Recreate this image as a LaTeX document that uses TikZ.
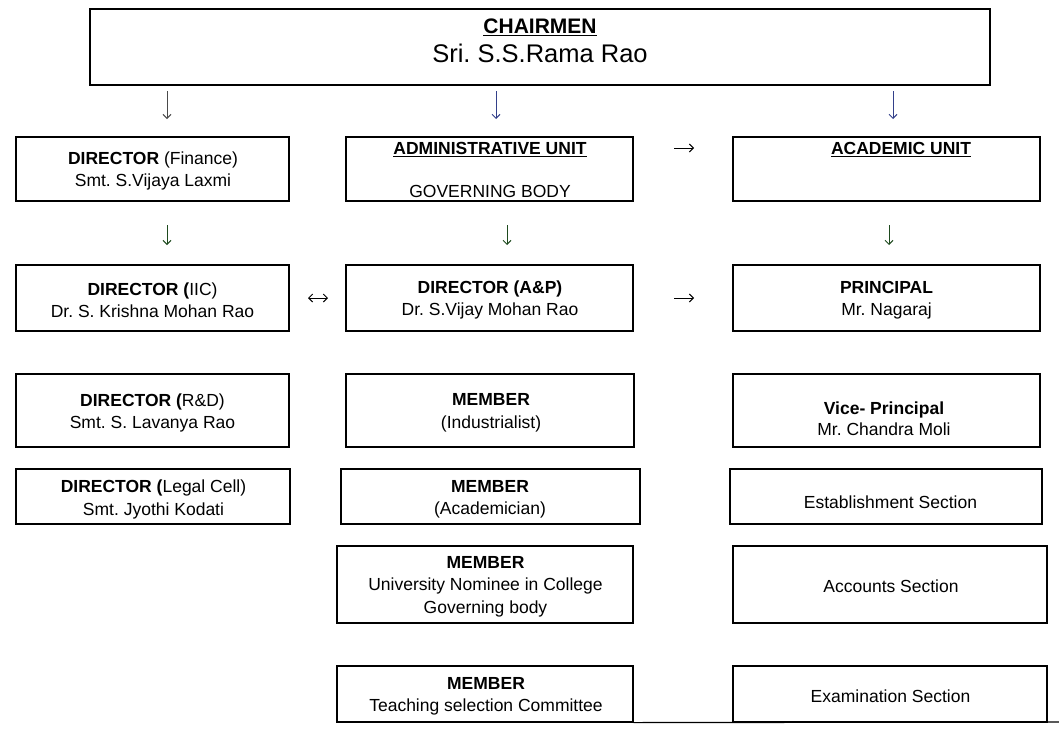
\documentclass[tikz,border=0pt]{standalone}
\usepackage{fontspec}
\setmainfont{Liberation Sans}
\usetikzlibrary{arrows.meta}
\definecolor{arrblue}{HTML}{33408A}
\definecolor{arrgreen}{HTML}{1E4A1E}
\definecolor{arrgray}{HTML}{4A4A4A}
\frenchspacing
\newcommand\bodyfs{\fontsize{17.5}{22.5}\selectfont}
\newcommand\bx[5]{\node[box,minimum width=#4pt-#2pt,minimum height=#5pt-#3pt] (#1) at ({(#2+#4)/2},{(#3+#5)/2}) {};}
\begin{document}
\begin{tikzpicture}[x=1pt,y=-1pt,
 box/.style={draw=black,line width=1.2pt,inner sep=0pt,rectangle},
 txt/.style={inner sep=0pt,align=center,font=\bodyfs,yshift=-1.5pt},
 arr/.style={line width=1pt,-{Straight Barb[length=4pt,width=8pt]}},
 darr/.style={line width=1pt,{Straight Barb[length=4pt,width=8pt]}-{Straight Barb[length=4pt,width=8pt]}}]
\path[use as bounding box, fill=white] (0,0) rectangle (1059,739);
% boxes
\bx{chair}{90}{9}{990}{85}
\bx{fin}{16}{137}{289}{201}
\bx{adm}{346}{137}{633}{201}
\bx{acad}{733}{137}{1040}{201}
\bx{iic}{16}{265}{289}{331}
\bx{ap}{346}{265}{633}{331}
\bx{prin}{733}{265}{1040}{331}
\bx{rd}{16}{374}{289}{447}
\bx{ind}{346}{374}{634}{447}
\bx{vp}{733}{374}{1040}{447}
\bx{leg}{16}{469}{290}{524}
\bx{aca}{341}{469}{640}{524}
\bx{est}{730}{469}{1042}{524}
\bx{uni}{337}{546}{633}{623}
\bx{acc}{733}{546}{1047}{623}
\bx{tea}{337}{666}{633}{722}
\bx{exa}{733}{666}{1047}{722}
\coordinate (edgeR) at (1059,722);
\draw[line width=1.2pt] (tea.south east) -- (edgeR);
% texts
\node[txt,font=\fontsize{21}{25}\selectfont\bfseries,yshift=0pt] (chair1) at (540,26) {\underline{CHAIRMEN}};
\node[txt,font=\fontsize{25.5}{30}\selectfont,yshift=0pt] (chair2) at (540,52) {Sri. S.S.Rama Rao};
\node[txt] (fint) at (153,169.5) {\textbf{DIRECTOR} (Finance)\\Smt. S.Vijaya Laxmi};
\node[txt] (admt1) at (490,148) {\textbf{\underline{ADMINISTRATIVE UNIT}}};
\node[txt] (admt2) at (490,190) {GOVERNING BODY};
\node[txt] (acadt) at (901,148) {\textbf{\underline{ACADEMIC UNIT}}};
\node[txt] (iict) at (152.5,298.5) {\textbf{DIRECTOR (}IIC)\\Dr. S. Krishna Mohan Rao};
\node[txt] (apt) at (490,298.5) {\textbf{DIRECTOR (A\&P)}\\Dr. S.Vijay Mohan Rao};
\node[txt] (print) at (886.5,298.5) {\textbf{PRINCIPAL}\\Mr. Nagaraj};
\node[txt] (rdt) at (152.5,411.5) {\textbf{DIRECTOR (}R\&D)\\Smt. S. Lavanya Rao};
\node[txt] (indt) at (491,411.5) {\textbf{MEMBER}\\(Industrialist)};
\node[txt,font=\fontsize{17.5}{21}\selectfont] (vpt) at (884,417.5) {\textbf{Vice- Principal}\\Mr. Chandra Moli};
\node[txt] (legt) at (153.5,498) {\textbf{DIRECTOR (}Legal Cell)\\Smt. Jyothi Kodati};
\node[txt] (acat) at (490,498) {\textbf{MEMBER}\\(Academician)};
\node[txt] (estt) at (890.5,501) {Establishment Section};
\node[txt] (unit) at (485.5,585) {\textbf{MEMBER}\\University Nominee in College\\Governing body};
\node[txt] (acct) at (891,585) {Accounts Section};
\node[txt] (teat) at (486,695) {\textbf{MEMBER}\\Teaching selection Committee};
\node[txt] (exat) at (890.5,695) {Examination Section};
% arrows
\coordinate (a1s) at (167,91);  \coordinate (a1e) at (167,119);
\coordinate (a2s) at (496,91);  \coordinate (a2e) at (496,119);
\coordinate (a3s) at (893,91);  \coordinate (a3e) at (893,119);
\coordinate (a4s) at (167,225); \coordinate (a4e) at (167,245);
\coordinate (a5s) at (507,225); \coordinate (a5e) at (507,245);
\coordinate (a6s) at (889,225); \coordinate (a6e) at (889,245);
\coordinate (a7s) at (674,148); \coordinate (a7e) at (694,148);
\coordinate (a8s) at (674,298); \coordinate (a8e) at (694,298);
\coordinate (a9s) at (308,298); \coordinate (a9e) at (328,298);
\draw[arr,arrgray] (a1s) -- (a1e);
\draw[arr,arrblue] (a2s) -- (a2e);
\draw[arr,arrblue] (a3s) -- (a3e);
\draw[arr,arrgreen] (a4s) -- (a4e);
\draw[arr,arrgreen] (a5s) -- (a5e);
\draw[arr,arrgreen] (a6s) -- (a6e);
\draw[arr,black] (a7s) -- (a7e);
\draw[arr,black] (a8s) -- (a8e);
\draw[darr,black] (a9s) -- (a9e);
\end{tikzpicture}
\end{document}
